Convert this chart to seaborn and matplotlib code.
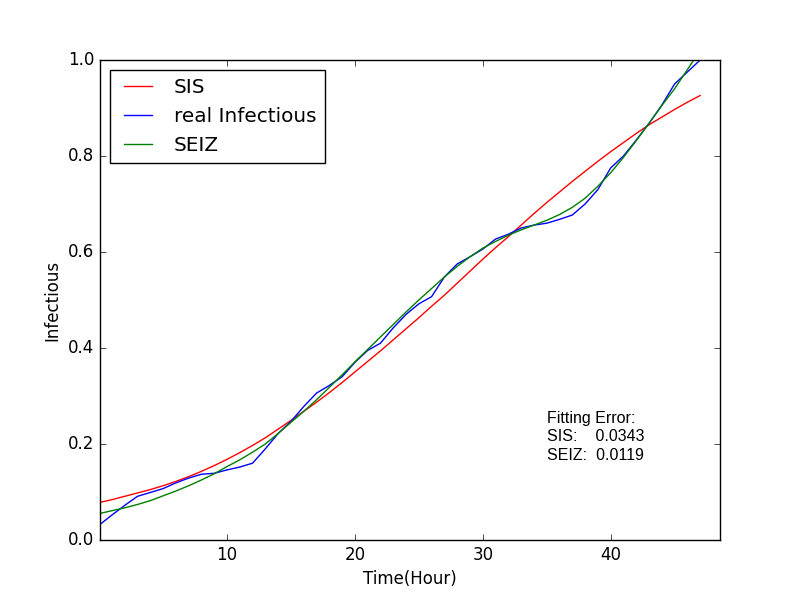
import numpy as np
import pandas as pd
import matplotlib
matplotlib.use("Agg")
import matplotlib.pyplot as plt
import seaborn as sns

# hours 0..47
hours = list(range(48))

sis_fit = [0.078, 0.084, 0.091, 0.098, 0.105, 0.113, 0.122, 0.132, 0.143, 0.155,
           0.168, 0.182, 0.197, 0.213, 0.231, 0.249, 0.268, 0.287, 0.307, 0.328,
           0.350, 0.372, 0.394, 0.417, 0.440, 0.463, 0.487, 0.510, 0.535, 0.560,
           0.585, 0.609, 0.632, 0.656, 0.680, 0.703, 0.725, 0.747, 0.768, 0.789,
           0.809, 0.828, 0.847, 0.865, 0.881, 0.897, 0.912, 0.926]

real_infectious = [0.031, 0.052, 0.072, 0.091, 0.099, 0.107, 0.119, 0.129, 0.137, 0.139,
                   0.146, 0.152, 0.160, 0.190, 0.222, 0.247, 0.278, 0.306, 0.322, 0.340,
                   0.370, 0.395, 0.410, 0.442, 0.470, 0.492, 0.507, 0.548, 0.575, 0.590,
                   0.606, 0.627, 0.637, 0.650, 0.656, 0.660, 0.668, 0.677, 0.700, 0.730,
                   0.775, 0.800, 0.833, 0.868, 0.906, 0.950, 0.975, 1.000]

seiz_fit = [0.055, 0.061, 0.067, 0.074, 0.082, 0.092, 0.102, 0.113, 0.125, 0.138,
            0.153, 0.167, 0.183, 0.200, 0.222, 0.245, 0.268, 0.292, 0.318, 0.344,
            0.371, 0.397, 0.423, 0.449, 0.475, 0.500, 0.524, 0.548, 0.570, 0.590,
            0.608, 0.622, 0.635, 0.646, 0.656, 0.666, 0.678, 0.693, 0.712, 0.737,
            0.765, 0.797, 0.832, 0.868, 0.905, 0.940, 0.980, 1.020]

series = [("SIS", sis_fit, "r"),
          ("real Infectious", real_infectious, "b"),
          ("SEIZ", seiz_fit, "g")]

err_text = "Fitting Error:\nSIS:    0.0343\nSEIZ:  0.0119"

plt.style.use("classic")
fig, ax = plt.subplots(figsize=(8, 6), dpi=100)
fig.patch.set_facecolor("white")

for name, vals, col in series:
    df = pd.DataFrame({"Time": hours, "Infectious": vals})
    sns.lineplot(data=df, x="Time", y="Infectious", color=col, label=name, ax=ax)

ax.set_xlim(0.07, 48.55)
ax.set_ylim(0.0, 1.0)
ax.set_xticks([10, 20, 30, 40])
ax.set_yticks(np.arange(0, 1.01, 0.2))
ax.set_xlabel("Time(Hour)", fontsize=12)
ax.set_ylabel("Infectious", fontsize=12)
ax.legend(loc="upper left", fontsize="large")

ax.text(35.0, 0.166, err_text, fontsize=11.5, family=["Liberation Sans", "DejaVu Sans"],
        linespacing=1.32)

fig.savefig("out.png", dpi=100, facecolor="white")
